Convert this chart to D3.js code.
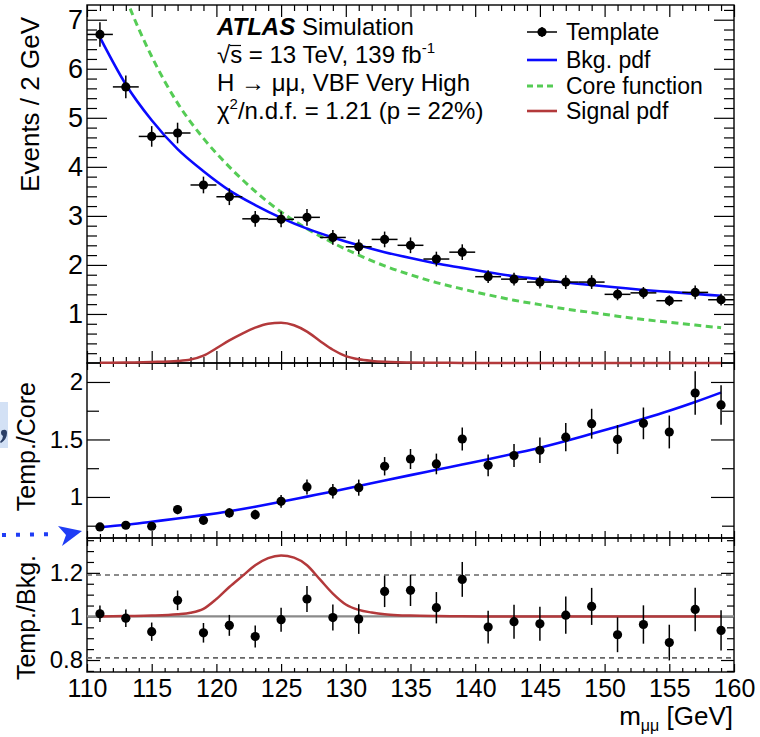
<!DOCTYPE html>
<html>
<head>
<meta charset="utf-8">
<script src="https://cdn.jsdelivr.net/npm/d3@7"></script>
<style>
body { margin: 0; background: #fff; }
text { font-family: "Liberation Sans", Arial, Helvetica, sans-serif; fill: #000; }
</style>
</head>
<body>
<div class="PLOT"></div>
<script>

// bin centres of the 2 GeV bins
var mass = [111,113,115,117,119,121,123,125,127,129,131,133,135,137,139,141,143,145,147,149,151,153,155,157,159];

// template histogram, events / 2 GeV, and its error
var template    = [6.70,5.63,4.62,4.69,3.63,3.39,2.94,2.93,2.97,2.56,2.37,2.52,2.40,2.12,2.26,1.76,1.71,1.65,1.65,1.65,1.40,1.43,1.27,1.44,1.29];
var templateErr = [0.25,0.23,0.21,0.21,0.17,0.17,0.16,0.16,0.17,0.15,0.15,0.16,0.16,0.15,0.16,0.13,0.13,0.13,0.14,0.14,0.12,0.12,0.11,0.14,0.12];

// template / core function
var ratioCore    = [0.739,0.754,0.745,0.890,0.797,0.861,0.846,0.962,1.087,1.049,1.081,1.267,1.330,1.287,1.504,1.275,1.360,1.406,1.520,1.637,1.500,1.640,1.565,1.904,1.800];
var ratioCoreErr = [0.028,0.030,0.032,0.040,0.036,0.041,0.042,0.055,0.065,0.063,0.070,0.080,0.087,0.090,0.100,0.094,0.100,0.110,0.123,0.130,0.126,0.138,0.143,0.190,0.172];

// template / bkg pdf
var ratioBkg    = [1.012,0.992,0.930,1.074,0.925,0.959,0.908,0.985,1.080,0.995,0.988,1.115,1.120,1.040,1.170,0.951,0.976,0.966,1.006,1.046,0.916,0.963,0.880,1.032,0.936];
var ratioBkgErr = [0.038,0.040,0.042,0.045,0.045,0.048,0.050,0.055,0.060,0.060,0.068,0.072,0.072,0.072,0.080,0.075,0.078,0.078,0.085,0.085,0.080,0.088,0.082,0.100,0.092];

// fitted curves, read at the bin centres
var bkgPdf    = [6.64,5.68,4.95,4.36,3.91,3.52,3.22,2.96,2.74,2.56,2.40,2.26,2.14,2.03,1.94,1.85,1.77,1.71,1.64,1.59,1.54,1.49,1.45,1.41,1.37];
var coreFunc  = [9.00,7.45,6.25,5.30,4.58,4.00,3.50,3.08,2.74,2.45,2.20,1.98,1.80,1.64,1.51,1.39,1.28,1.19,1.10,1.03,0.955,0.887,0.829,0.773,0.719];
var bkgOverCore = [0.736,0.758,0.785,0.812,0.842,0.876,0.915,0.958,1.003,1.048,1.095,1.143,1.190,1.236,1.282,1.328,1.377,1.428,1.487,1.550,1.613,1.680,1.750,1.826,1.908];

// signal pdf, finer sampling round the peak
var sigMass  = [111,113,115,117,118,119,120,121,122,123,124,125,126,127,128,129,130,131,132,133,134,135,137,139,141,145,150,155,159];
var sigPdf   = [0.003,0.010,0.020,0.040,0.070,0.150,0.300,0.460,0.600,0.720,0.800,0.820,0.770,0.640,0.450,0.270,0.140,0.075,0.042,0.023,0.013,0.009,0.004,0.002,0,0,0,0,0];
var sigRatio = [1.000,1.002,1.004,1.010,1.017,1.035,1.080,1.135,1.185,1.235,1.268,1.280,1.270,1.235,1.170,1.105,1.055,1.030,1.018,1.010,1.006,1.004,1.002,1.001,1.000,1.000,1.000,1.000,1.000];

// axis ticks
var xTickLabels = [110,115,120,125,130,135,140,145,150,155,160];
var topTicks = [1,2,3,4,5,6,7];
var midTicks = [1,1.5,2];
var botTicks = [0.8,1,1.2];
var bandLines = [0.81,1.19];

var legendLabels = ["Template","Bkg. pdf","Core function","Signal pdf"];

var BLUE = "#0a0aff", GREEN = "#55cc55", RED = "#b3393b";

var svg = d3.select(".PLOT").append("svg")
	.attr("width", 760)
	.attr("height", 737);

var x = d3.scaleLinear().domain([110,160]).range([87,734]);
var yTop = d3.scaleLinear().domain([0,7.3]).range([363,5]);
var yMid = d3.scaleLinear().domain([0.643,2.165]).range([538,363]);
var yBot = d3.scaleLinear().domain([0.745,1.36]).range([672,538]);

var xMinor = d3.range(110,161,1).filter(function(v){ return v % 5 != 0; });

// clip paths for the three pads
function addClip(id, y, extra) {
	svg.append("clipPath").attr("id", id).append("rect")
		.attr("x", x(110)).attr("y", y.range()[1])
		.attr("width", x(160) - x(110))
		.attr("height", y.range()[0] - y.range()[1] + extra);
}
addClip("cTop", yTop, 3);
addClip("cMid", yMid, 0);
addClip("cBot", yBot, 0);

// ticks on all four sides, pointing inwards
function drawFrame(y, xMaj, xMin, yMaj, yMin, yMajVals, yMinVals) {
	var g = svg.append("g");
	var b = y.range()[0], t = y.range()[1];
	function clean(s){ s.select(".domain").remove(); s.selectAll("line").attr("stroke-width", 1.2); }
	g.append("g").attr("transform","translate(0,"+b+")")
		.call(d3.axisBottom(x).tickValues(xTickLabels).tickSize(-xMaj).tickFormat("")).call(clean);
	g.append("g").attr("transform","translate(0,"+b+")")
		.call(d3.axisBottom(x).tickValues(xMinor).tickSize(-xMin).tickFormat("")).call(clean);
	g.append("g").attr("transform","translate(0,"+t+")")
		.call(d3.axisTop(x).tickValues(xTickLabels).tickSize(-xMaj).tickFormat("")).call(clean);
	g.append("g").attr("transform","translate(0,"+t+")")
		.call(d3.axisTop(x).tickValues(xMinor).tickSize(-xMin).tickFormat("")).call(clean);
	g.append("g").attr("transform","translate("+x(110)+",0)")
		.call(d3.axisLeft(y).tickValues(yMajVals).tickSize(-yMaj).tickFormat("")).call(clean);
	g.append("g").attr("transform","translate("+x(110)+",0)")
		.call(d3.axisLeft(y).tickValues(yMinVals).tickSize(-yMin).tickFormat("")).call(clean);
	g.append("g").attr("transform","translate("+x(160)+",0)")
		.call(d3.axisRight(y).tickValues(yMajVals).tickSize(-yMaj).tickFormat("")).call(clean);
	g.append("g").attr("transform","translate("+x(160)+",0)")
		.call(d3.axisRight(y).tickValues(yMinVals).tickSize(-yMin).tickFormat("")).call(clean);
	g.append("rect")
		.attr("x", x(110)).attr("y", t)
		.attr("width", x(160) - x(110)).attr("height", b - t)
		.attr("fill", "none").attr("stroke", "#000").attr("stroke-width", 1.4);
}

function yLabels(y, vals, size, fmt) {
	svg.append("g").attr("transform","translate("+x(110)+",0)")
		.call(d3.axisLeft(y).tickValues(vals).tickSize(0).tickPadding(4).tickFormat(fmt))
		.call(function(s){
			s.select(".domain").remove();
			s.selectAll("text").attr("font-size", size+"px").attr("font-family", "Liberation Sans, Arial, sans-serif");
		});
}

var topMinor = d3.range(0.2,7.3,0.2).filter(function(v){ return Math.abs(v - Math.round(v)) > 0.01; });
var midMinor = [0.75,1.25,1.75];
var botMinor = [0.75,0.85,0.9,0.95,1.05,1.1,1.15,1.25,1.3,1.35];

drawFrame(yTop, 12, 6, 20, 10, topTicks, topMinor);
drawFrame(yMid, 7, 4, 23, 12, midTicks, midMinor);
drawFrame(yBot, 8, 4, 13, 7, botTicks, botMinor);

yLabels(yTop, topTicks, 27, d3.format("d"));
yLabels(yMid, midTicks, 24, function(d){ return d == 1 || d == 2 ? d3.format("d")(d) : d3.format(".1f")(d); });
yLabels(yBot, botTicks, 24, function(d){ return d == 1 ? "1" : d3.format(".1f")(d); });

// x tick labels under the bottom pad
svg.append("g").attr("transform","translate(0,"+yBot.range()[0]+")")
	.call(d3.axisBottom(x).tickValues(xTickLabels).tickSize(0).tickPadding(7).tickFormat(d3.format("d")))
	.call(function(s){
		s.select(".domain").remove();
		s.selectAll("text").attr("font-size","25px").attr("font-family","Liberation Sans, Arial, sans-serif");
	});

// ---- top pad ----
var topG = svg.append("g").attr("clip-path","url(#cTop)");

var lineSig = d3.line().x(function(d,i){ return x(sigMass[i]); }).y(function(d){ return yTop(d); }).curve(d3.curveMonotoneX);
topG.append("path").datum(sigPdf).attr("d", lineSig)
	.attr("fill","none").attr("stroke",RED).attr("stroke-width",2.5);

var lineCore = d3.line().x(function(d,i){ return x(mass[i]); }).y(function(d){ return yTop(d); }).curve(d3.curveMonotoneX);
topG.append("path").datum(coreFunc).attr("d", lineCore)
	.attr("fill","none").attr("stroke",GREEN).attr("stroke-width",3).attr("stroke-dasharray","7,4.5");

topG.append("path").datum(bkgPdf).attr("d", lineCore)
	.attr("fill","none").attr("stroke",BLUE).attr("stroke-width",2.6);

function drawPoints(y, vals, errs, horiz) {
	var g = svg.append("g");
	vals.forEach(function(v, i) {
		if (horiz) {
			g.append("line")
				.attr("x1", x(mass[i]-1)).attr("x2", x(mass[i]+1))
				.attr("y1", y(v)).attr("y2", y(v))
				.attr("stroke","#000").attr("stroke-width",1.5);
		}
		g.append("line")
			.attr("x1", x(mass[i])).attr("x2", x(mass[i]))
			.attr("y1", y(v - errs[i])).attr("y2", y(v + errs[i]))
			.attr("stroke","#000").attr("stroke-width",1.5);
		g.append("circle")
			.attr("cx", x(mass[i])).attr("cy", y(v)).attr("r", 4.6)
			.attr("fill","#000");
	});
}
drawPoints(yTop, template, templateErr, true);

// labels in the top pad
var info = svg.append("g").attr("font-size","24px");
var l1 = info.append("text").attr("x",217).attr("y",35);
l1.append("tspan").attr("font-weight","bold").attr("font-style","italic").text("ATLAS");
l1.append("tspan").text(" Simulation");

var l2 = info.append("text").attr("x",217).attr("y",63);
l2.append("tspan").text("\u221As = 13 TeV, 139 fb");
l2.append("tspan").attr("font-size","15px").attr("dy",-10).text("-1");
info.append("line").attr("x1",230).attr("x2",241).attr("y1",45.5).attr("y2",45.5)
	.attr("stroke","#000").attr("stroke-width",1.2);

info.append("text").attr("x",217).attr("y",91).text("H \u2192 \u03bc\u03bc, VBF Very High");

var l4 = info.append("text").attr("x",217).attr("y",119);
l4.append("tspan").text("\u03c7");
l4.append("tspan").attr("font-size","15px").attr("dy",-10).text("2");
l4.append("tspan").attr("dy",10).text("/n.d.f. = 1.21 (p = 22%)");

// legend
var leg = svg.append("g");
var legY = [32,60,86,111];
legendLabels.forEach(function(lab, i) {
	var yy = legY[i];
	if (i == 0) {
		leg.append("line").attr("x1",527).attr("x2",557).attr("y1",yy).attr("y2",yy).attr("stroke","#000").attr("stroke-width",1.5);
		leg.append("line").attr("x1",542).attr("x2",542).attr("y1",yy-5).attr("y2",yy+5).attr("stroke","#000").attr("stroke-width",1.5);
		leg.append("circle").attr("cx",542).attr("cy",yy).attr("r",4.6).attr("fill","#000");
	} else {
		var col = [null, BLUE, GREEN, RED][i];
		var l = leg.append("line").attr("x1",527).attr("x2",557).attr("y1",yy).attr("y2",yy)
			.attr("stroke",col).attr("stroke-width", i == 2 ? 3 : 2.6);
		if (i == 2) l.attr("stroke-dasharray","6,4");
	}
	leg.append("text").attr("x",566).attr("y",yy+8).attr("font-size","23px").text(lab);
});

// ---- middle pad ----
var midG = svg.append("g").attr("clip-path","url(#cMid)");
var lineMid = d3.line().x(function(d,i){ return x(mass[i]); }).y(function(d){ return yMid(d); }).curve(d3.curveMonotoneX);
midG.append("path").datum(bkgOverCore).attr("d", lineMid)
	.attr("fill","none").attr("stroke",BLUE).attr("stroke-width",2.6);
drawPoints(yMid, ratioCore, ratioCoreErr, false);

// ---- bottom pad ----
var botG = svg.append("g").attr("clip-path","url(#cBot)");
bandLines.forEach(function(v) {
	botG.append("line").attr("x1",x(110)).attr("x2",x(160)).attr("y1",yBot(v)).attr("y2",yBot(v))
		.attr("stroke","#666").attr("stroke-width",1.6).attr("stroke-dasharray","5,4");
});
botG.append("line").attr("x1",x(110)).attr("x2",x(160)).attr("y1",yBot(1)).attr("y2",yBot(1))
	.attr("stroke","#8a8a8a").attr("stroke-width",2.2);
var lineBot = d3.line().x(function(d,i){ return x(sigMass[i]); }).y(function(d){ return yBot(d); }).curve(d3.curveMonotoneX);
botG.append("path").datum(sigRatio).attr("d", lineBot)
	.attr("fill","none").attr("stroke",RED).attr("stroke-width",2.5);
drawPoints(yBot, ratioBkg, ratioBkgErr, false);

// axis titles
svg.append("text").attr("transform","translate(39,17) rotate(-90)")
	.attr("text-anchor","end").attr("font-size","26px").text("Events / 2 GeV");
svg.append("text").attr("transform","translate(35,382) rotate(-90)")
	.attr("text-anchor","end").attr("font-size","25px").text("Temp./Core");
svg.append("text").attr("transform","translate(35,555) rotate(-90)")
	.attr("text-anchor","end").attr("font-size","25px").text("Temp./Bkg.");

var xt = svg.append("text").attr("x",733).attr("y",725).attr("text-anchor","end").attr("font-size","26px");
xt.append("tspan").text("m");
xt.append("tspan").attr("font-size","16px").attr("dy",6).text("\u03bc\u03bc");
xt.append("tspan").attr("dy",-6).text(" [GeV]");

// bits of the page round the figure (cut at the left edge)
svg.append("rect").attr("x",0).attr("y",402).attr("width",8).attr("height",46).attr("fill","#d3e1f5");
svg.append("path").attr("d","M3,430 Q7,429 7,433 Q7,439 1,443 L0,442 Q3,439 3,436 Q1,435 1,433 Q1,430 3,430 Z")
	.attr("fill","#2b3f66");
svg.append("line").attr("x1",2).attr("x2",56).attr("y1",535).attr("y2",534)
	.attr("stroke","#1f3df5").attr("stroke-width",4).attr("stroke-dasharray","4,10");
svg.append("path").attr("d","M58,526 L82,531 L62,546 L66,535 Z").attr("fill","#1f3df5");

</script>
</body>
</html>
